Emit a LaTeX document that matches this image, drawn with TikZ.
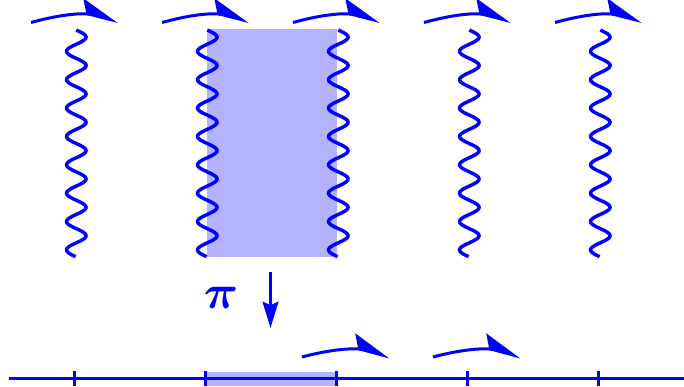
\documentclass[tikz,border=0pt]{standalone}
\usepackage{amsmath}
\usepackage{tikz}
\usetikzlibrary{arrows.meta}
\definecolor{fiber}{HTML}{0000FF}
\definecolor{liftfill}{HTML}{B3B3FF}
\tikzset{fibre/.style={draw=fiber,line width=1.5pt,line join=round},deck/.style={draw=fiber,line width=1.3pt,-{Stealth[harpoon,length=0.54cm,width=0.42cm,inset=0.1cm]}}}

\begin{document}
\begin{tikzpicture}[proj/.style={draw=fiber,line width=1.3pt,-{Stealth[length=0.4cm,width=0.24cm,inset=0.05cm]}},base/.style={draw=fiber,line width=1.3pt}]
\useasboundingbox (-1.13,-0.115) rectangle (9.313,5.779);
\fill[liftfill] (2.03,1.855) rectangle (4.02,5.335);
\fill[liftfill] (2,-0.12) rectangle (4,0.1);
\foreach \i in {0,...,4}{
  % fibre over the point 2*\i
  \draw[fibre] plot[domain=0:1,samples=161] ({2*\i+0.035+0.15*sin(8*360*\x)},{5.32-3.465*\x});
  \coordinate (from\i) at (2*\i-0.656,5.435);\coordinate (to\i) at (2*\i+0.672,5.45);
  \draw[deck] (from\i) to[bend left=15] (to\i);
  \coordinate (tu\i) at (2*\i,0.11);\coordinate (td\i) at (2*\i,-0.12);
  \draw[base] (tu\i)--(td\i);
}
\coordinate (axl) at (-0.99,0);\coordinate (axr) at (9.313,0);
\draw[base] (axl)--(axr);
\foreach \i in {1,2}{
  \coordinate (bf\i) at (2*\i+1.48,0.328);\coordinate (bt\i) at (2*\i+2.82,0.328);
  \draw[deck] (bf\i) to[bend left=15] (bt\i);
}
\node[text=fiber,font=\fontsize{21}{25}\selectfont] (pi) at (2.244,1.229) {$\boldsymbol{\pi}$};
\coordinate (pa) at (3,1.626);\coordinate (pb) at (3,0.771);
\draw[proj] (pa)--(pb);
\end{tikzpicture}
\end{document}
